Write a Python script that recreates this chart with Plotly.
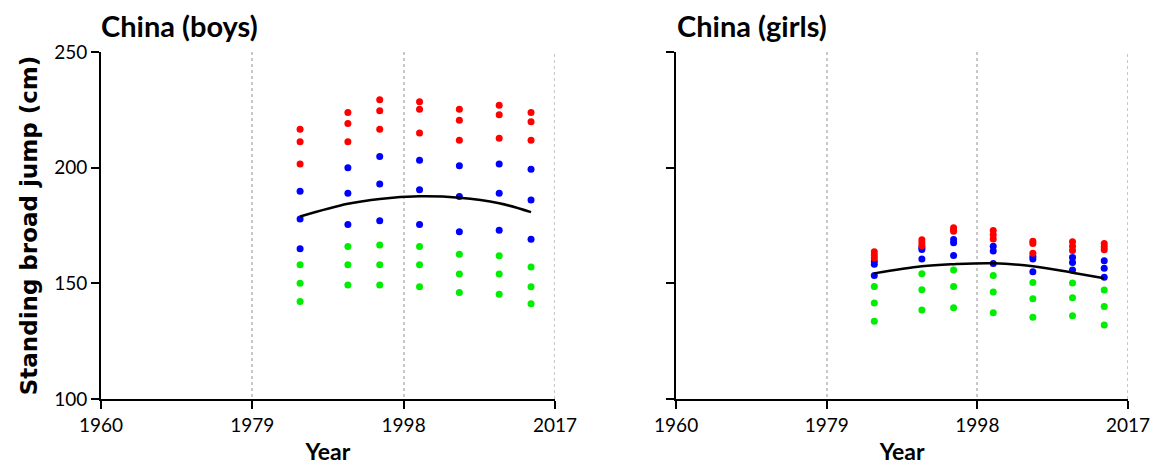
import plotly.graph_objects as go

years = [1985, 1991, 1995, 2000, 2005, 2010, 2014]

boys_red = [[216.6, 211.2, 201.6], [223.9, 219.1, 211.2], [229.4, 224.6, 216.6], [228.5, 225.3, 215.0],
            [225.3, 220.5, 211.9], [227.0, 222.9, 212.7], [223.9, 219.8, 211.9]]
boys_blue = [[189.8, 177.8, 165.0], [200.0, 188.9, 175.4], [204.8, 192.9, 177.0], [203.2, 190.5, 175.4],
             [200.8, 187.5, 172.3], [201.6, 188.9, 173.0], [199.3, 186.0, 169.1]]
boys_green = [[158.0, 150.0, 142.2], [165.9, 158.0, 149.3], [166.6, 158.0, 149.3], [165.9, 158.0, 148.5],
              [162.6, 154.0, 146.0], [161.9, 154.0, 145.3], [157.1, 148.5, 141.2]]
boys_trend = [178.9, 184.4, 186.5, 187.6, 187.0, 184.6, 180.8]

girls_red = [[163.6, 162.3, 161.0], [168.8, 167.5, 166.3], [174.0, 173.2, 172.5], [172.8, 171.0, 169.2],
             [168.2, 167.2, 163.0], [168.0, 166.0, 164.2], [167.2, 165.8, 164.5]]
girls_blue = [[159.5, 158.3, 153.4], [165.5, 164.6, 160.5], [169.0, 167.5, 162.0], [166.0, 164.0, 158.6],
              [161.6, 160.5, 155.0], [161.2, 159.0, 155.8], [159.8, 156.5, 152.6]]
girls_green = [[148.6, 141.5, 133.6], [154.1, 147.2, 138.5], [155.8, 148.6, 139.4], [153.4, 146.2, 137.3],
               [150.4, 143.3, 135.3], [150.1, 143.8, 136.0], [147.1, 140.0, 132.0]]
girls_trend = [154.3, 157.4, 158.3, 158.7, 157.4, 154.6, 152.2]

x_ticks = [1960, 1979, 1998, 2017]
y_ticks = [100, 150, 200, 250]
titles = ["China (boys)", "China (girls)"]

FONT = "Lato"
W, H = 1153, 465
ML, MR, MT, MB = 101, 25, 52, 66
PW = W - ML - MR

fig = go.Figure()


def flat(groups):
    xs, ys = [], []
    for yr, vals in zip(years, groups):
        for v in vals:
            xs.append(yr)
            ys.append(v)
    return xs, ys


panels = [("x", "y", boys_red, boys_blue, boys_green, boys_trend),
          ("x2", "y2", girls_red, girls_blue, girls_green, girls_trend)]
for xa, ya, red, blue, green, trend in panels:
    for grp, col in [(green, "#00ee00"), (blue, "#0000ff"), (red, "#ff0000")]:
        xs, ys = flat(grp)
        fig.add_trace(go.Scatter(x=xs, y=ys, mode="markers", xaxis=xa, yaxis=ya,
                                 marker=dict(color=col, size=7, line=dict(width=0)),
                                 showlegend=False, hoverinfo="skip"))
    fig.add_trace(go.Scatter(x=years, y=trend, mode="lines", xaxis=xa, yaxis=ya,
                             line=dict(color="black", width=2.5, shape="spline", smoothing=1.0),
                             showlegend=False, hoverinfo="skip"))
    # dotted grid line at the right edge (plotly drops edge gridlines)
    fig.add_shape(type="line", xref=xa, yref=ya + " domain", x0=x_ticks[-1], x1=x_ticks[-1],
                  y0=0, y1=1, line=dict(color="#c8c8c8", width=2, dash="dot"), layer="below")

xcommon = dict(range=[1960, 2017], tickvals=x_ticks, ticktext=[str(t) for t in x_ticks],
               showline=True, linecolor="black", linewidth=2, ticks="outside", ticklen=8,
               tickwidth=2, tickcolor="black", showgrid=True, gridcolor="#c8c8c8", gridwidth=2,
               griddash="dot", zeroline=False, automargin=False,
               tickfont=dict(family=FONT, size=19, color="black"),
               title=dict(text="<b>Year</b>", font=dict(family=FONT, size=23, color="black"), standoff=14))
ycommon = dict(range=[100, 250], tickvals=y_ticks, showline=True, linecolor="black", linewidth=2,
               ticks="outside", ticklen=8, tickwidth=2, tickcolor="black", showgrid=False,
               zeroline=False, automargin=False, tickfont=dict(family=FONT, size=19, color="black"))

fig.update_layout(
    width=W, height=H,
    margin=dict(l=ML, r=MR, t=MT, b=MB),
    paper_bgcolor="white", plot_bgcolor="white",
    xaxis=dict(domain=[0, 0.442], anchor="y", **xcommon),
    xaxis2=dict(domain=[0.56, 1], anchor="y2", **xcommon),
    yaxis=dict(domain=[0, 1], anchor="x", ticktext=[str(t) for t in y_ticks],
               title=dict(text="<b>Standing broad jump (cm)</b>",
                          font=dict(family="DejaVu Sans", size=23, color="black"), standoff=10),
               **ycommon),
    yaxis2=dict(domain=[0, 1], anchor="x2", showticklabels=False, **ycommon),
)

for px, t in [(99, titles[0]), (675, titles[1])]:
    fig.add_annotation(text="<b>" + t + "</b>", x=(px - ML) / PW, y=1.0,
                       xref="paper", yref="paper", xanchor="left", yanchor="middle",
                       yshift=MT - 25, showarrow=False,
                       font=dict(family=FONT, size=29, color="black"))

fig.write_html("out.html", config={"displayModeBar": False},
               post_script="document.body.style.margin='0';document.body.style.overflow='hidden';")
